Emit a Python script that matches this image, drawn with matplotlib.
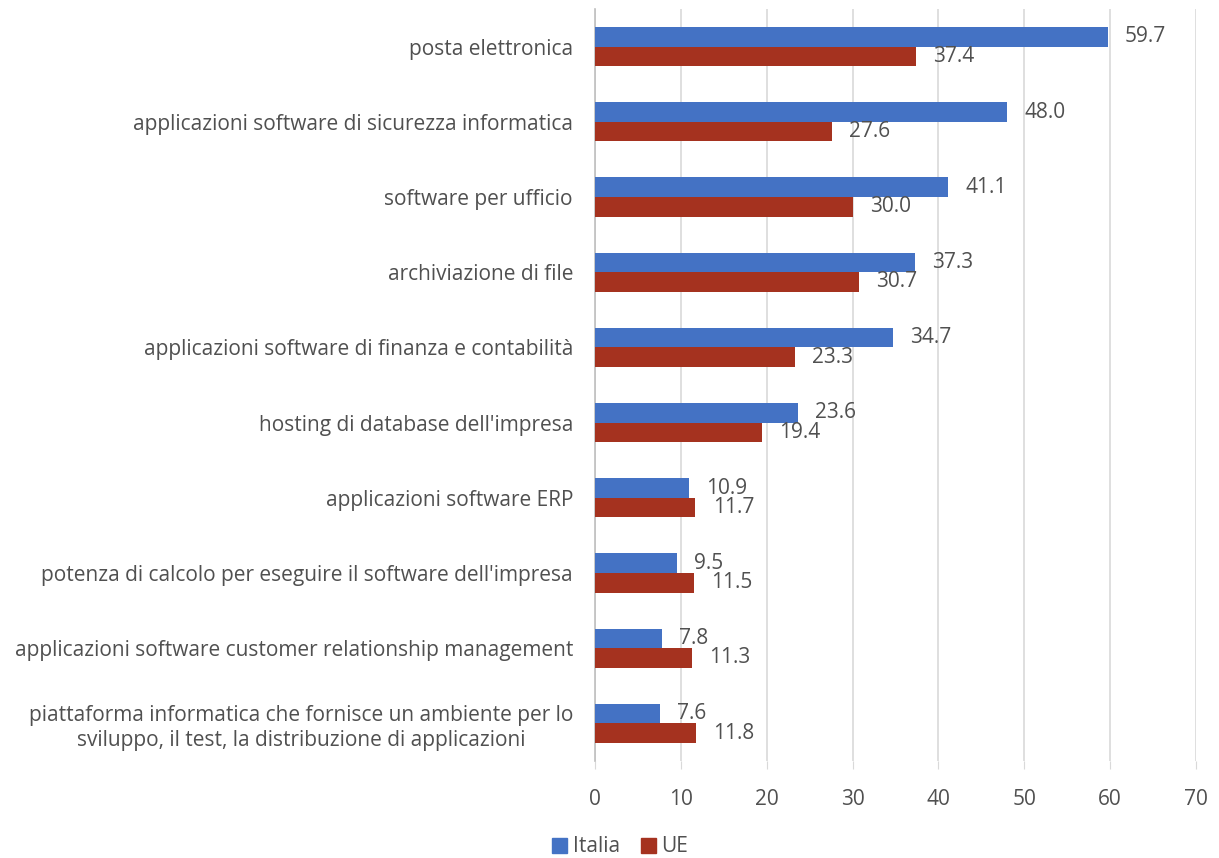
import numpy as np
import matplotlib.pyplot as plt
import matplotlib.transforms as mtransforms
from matplotlib.patches import Patch

# dati
categorie = [
    "posta elettronica",
    "applicazioni software di sicurezza informatica",
    "software per ufficio",
    "archiviazione di file",
    "applicazioni software di finanza e contabilità",
    "hosting di database dell'impresa",
    "applicazioni software ERP",
    "potenza di calcolo per eseguire il software dell'impresa",
    "applicazioni software customer relationship management",
    "piattaforma informatica che fornisce un ambiente per lo\nsviluppo, il test, la distribuzione di applicazioni",
]
italia = [59.7, 48.0, 41.1, 37.3, 34.7, 23.6, 10.9, 9.5, 7.8, 7.6]
ue = [37.4, 27.6, 30.0, 30.7, 23.3, 19.4, 11.7, 11.5, 11.3, 11.8]

BLU = '#4472C4'
ROSSO = '#A5321F'
TESTO = '#505050'
FS = 15

plt.rcParams['font.family'] = ['Open Sans', 'DejaVu Sans']

fig = plt.figure(figsize=(12.19, 8.58), dpi=100)
ax = fig.add_axes([595/1219, 1 - 761/858, (1196-595)/1219, (761-9)/858])

y = np.arange(len(categorie))
h = 0.26
ax.barh(y - h/2, italia, height=h, color=BLU, zorder=3)
ax.barh(y + h/2, ue, height=h, color=ROSSO, zorder=3)

for yi, v in zip(y, italia):
    ax.text(v + 2.0, yi - h/2, f"{v:.1f}", va='center', ha='left', fontsize=FS, color=TESTO)
for yi, v in zip(y, ue):
    ax.text(v + 2.0, yi + h/2, f"{v:.1f}", va='center', ha='left', fontsize=FS, color=TESTO)

ax.set_ylim(len(categorie) - 0.5, -0.5)
ax.set_xlim(0, 70)
ax.set_xticks(range(0, 71, 10))
ax.set_yticks(y)
ax.set_yticklabels(categorie, fontsize=FS, color=TESTO, ha='center',
                   multialignment='center', linespacing=1.25)
ax.tick_params(axis='y', length=0, pad=0)
ax.tick_params(axis='x', length=6, color='#D9D9D9', labelcolor=TESTO, labelsize=FS, pad=14)

ax.grid(axis='x', color='#D9D9D9', linewidth=1.2, zorder=0)
for s in ['top', 'right', 'bottom']:
    ax.spines[s].set_visible(False)
ax.spines['left'].set_color('#BFBFBF')
ax.spines['left'].set_linewidth(1.2)

# etichette centrate, con bordo destro a sinistra dell'asse
fig.canvas.draw()
r = fig.canvas.get_renderer()
for lab in ax.get_yticklabels():
    bb = lab.get_window_extent(r)
    lab.set_transform(lab.get_transform() + mtransforms.ScaledTranslation(-(bb.width/2 + 22)/100, 0, fig.dpi_scale_trans))

handles = [Patch(color=BLU, label='Italia'), Patch(color=ROSSO, label='UE')]
fig.legend(handles=handles, loc='center', bbox_to_anchor=(620/1219, 1 - 847/858), ncol=2,
           frameon=False, fontsize=FS, handlelength=0.75, handleheight=0.75,
           handletextpad=0.25, columnspacing=1.0, labelcolor=TESTO)

fig.savefig('out.png', dpi=100)
